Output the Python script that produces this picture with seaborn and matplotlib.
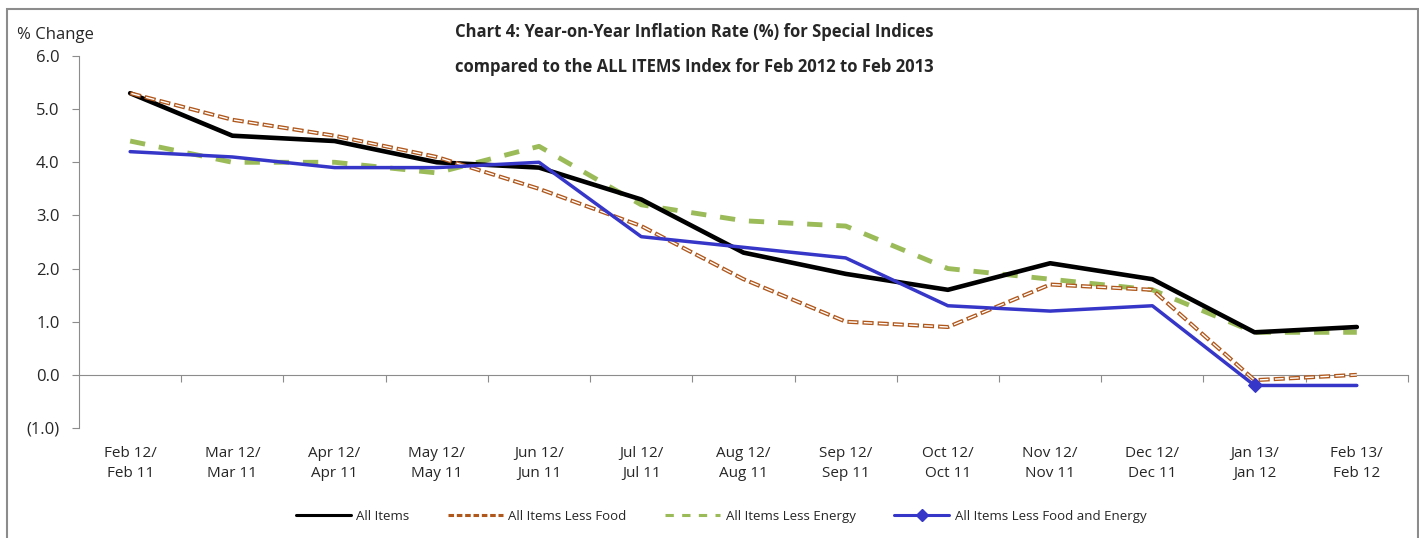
import numpy as np
import pandas as pd
import seaborn as sns
import matplotlib.pyplot as plt
from matplotlib.patches import Rectangle

# datos
periodos = ["Feb 12/\nFeb 11", "Mar 12/\nMar 11", "Apr 12/\nApr 11", "May 12/\nMay 11",
            "Jun 12/\nJun 11", "Jul 12/\nJul 11", "Aug 12/\nAug 11", "Sep 12/\nSep 11",
            "Oct 12/\nOct 11", "Nov 12/\nNov 11", "Dec 12/\nDec 11", "Jan 13/\nJan 12",
            "Feb 13/\nFeb 12"]
all_items = [5.3, 4.5, 4.4, 4.0, 3.9, 3.3, 2.3, 1.9, 1.6, 2.1, 1.8, 0.8, 0.9]
less_food = [5.3, 4.8, 4.5, 4.1, 3.5, 2.8, 1.8, 1.0, 0.9, 1.7, 1.6, -0.1, 0.0]
less_energy = [4.4, 4.0, 4.0, 3.8, 4.3, 3.2, 2.9, 2.8, 2.0, 1.8, 1.6, 0.8, 0.8]
less_food_energy = [4.2, 4.1, 3.9, 3.9, 4.0, 2.6, 2.4, 2.2, 1.3, 1.2, 1.3, -0.2, -0.2]
y_ticks = [-1, 0, 1, 2, 3, 4, 5, 6]
y_labels = ["(1.0)", "0.0", "1.0", "2.0", "3.0", "4.0", "5.0", "6.0"]

sns.set_style("white")
plt.rcParams['font.family'] = ['Open Sans', 'DejaVu Sans']
plt.rcParams['lines.scale_dashes'] = False

df = pd.DataFrame({"x": np.arange(len(periodos)), "all": all_items, "food": less_food,
                   "energy": less_energy, "fe": less_food_energy})

fig = plt.figure(figsize=(14.19, 5.38), dpi=100)
ax = fig.add_axes([0.0557, 0.2045, 0.9365, 0.6914])

gris = "#8c8c8c"
marron = "#B0571B"
verde = "#9BBB59"
azul = "#3636C8"

# lineas
sns.lineplot(data=df, x="x", y="all", ax=ax, color="black", linewidth=3.3, zorder=3, legend=False)
# doble linea punteada (contorno marron, interior blanco)
sns.lineplot(data=df, x="x", y="food", ax=ax, color=marron, linewidth=2.9, zorder=4, legend=False)
ax.lines[-1].set_linestyle((0, (8.0, 2.9)))
sns.lineplot(data=df, x="x", y="food", ax=ax, color="white", linewidth=1.0, zorder=5, legend=False)
ax.lines[-1].set_linestyle((10.0, (6.2, 4.7)))
sns.lineplot(data=df, x="x", y="energy", ax=ax, color=verde, linewidth=3.5, zorder=2, legend=False)
ax.lines[-1].set_linestyle((0, (11, 10)))
sns.lineplot(data=df, x="x", y="fe", ax=ax, color=azul, linewidth=2.5, zorder=6, legend=False,
             marker="D", markersize=7, markevery=[11], markeredgecolor=azul)

# leyenda manual
h_all = plt.Line2D([], [], color="black", linewidth=2.2)
h_food = plt.Line2D([], [], color=marron, linewidth=2.2, linestyle=(0, (4, 2)))
h_energy = plt.Line2D([], [], color=verde, linewidth=2.2, linestyle=(0, (6, 6)))
h_fe = plt.Line2D([], [], color=azul, linewidth=2.2, marker="D", markersize=6, markevery=[0])
fig.legend([h_all, h_food, h_energy, h_fe],
           ["All Items", "All Items Less Food", "All Items Less Energy", "All Items Less Food and Energy"],
           loc="center", bbox_to_anchor=(0.508, 0.04), ncol=4, frameon=False, fontsize=9.5,
           handlelength=4.2, columnspacing=2.9, handletextpad=0.4)

# ejes
ax.set_xlim(-0.5, 12.5)
ax.set_ylim(-1, 6)
ax.set_yticks(y_ticks)
ax.set_yticklabels(y_labels, fontsize=12)
for s in ["top", "right"]:
    ax.spines[s].set_visible(False)
ax.spines["left"].set_color(gris)
ax.spines["bottom"].set_color(gris)
ax.spines["bottom"].set_position(("data", 0))
ax.tick_params(axis="y", which="major", direction="out", length=5, color=gris, left=True, pad=9)
ax.set_xticks(np.arange(0.5, 13, 1))
ax.set_xticklabels([])
ax.set_xticks(np.arange(len(periodos)), minor=True)
ax.set_xticklabels(periodos, minor=True, fontsize=11, linespacing=1.45)
ax.tick_params(axis="x", which="major", direction="out", length=5, color=gris, bottom=True)
ax.tick_params(axis="x", which="minor", length=0, pad=51)
ax.set_xlabel("")
ax.set_ylabel("")

# titulos
fig.text(0.489, 0.94, "Chart 4: Year-on-Year Inflation Rate (%) for Special Indices",
         ha="center", va="center", fontsize=12, fontweight="bold")
fig.text(0.489, 0.875, "compared to the ALL ITEMS Index for Feb 2012 to Feb 2013",
         ha="center", va="center", fontsize=12, fontweight="bold")
fig.text(0.012, 0.935, "% Change", ha="left", va="center", fontsize=12)

# borde
fig.patches.append(Rectangle((0.005, -0.02), 0.994, 1.003, transform=fig.transFigure,
                             fill=False, edgecolor=gris, linewidth=1.5))

fig.savefig("out.png", dpi=100)
